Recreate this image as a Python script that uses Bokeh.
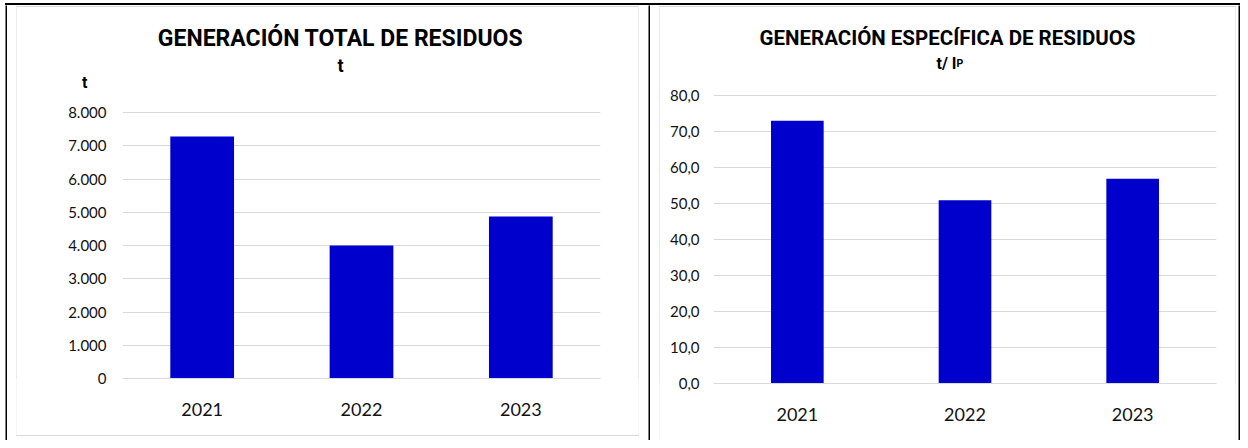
from bokeh.plotting import figure
from bokeh.layouts import row, column
from bokeh.models import Range1d, FixedTicker, LinearAxis, Div, Spacer
from bokeh.core.properties import value
from bokeh.embed import file_html
from bokeh.resources import INLINE

# ---------------- data ----------------
years = ["2021", "2022", "2023"]
total_t = [7280, 4000, 4870]
specific_t_ip = [73.0, 50.9, 56.9]

left_ticks = [0, 1000, 2000, 3000, 4000, 5000, 6000, 7000, 8000]
left_tick_labels = ["0", "1.000", "2.000", "3.000", "4.000", "5.000", "6.000", "7.000", "8.000"]
right_ticks = [0, 10, 20, 30, 40, 50, 60, 70, 80]
right_tick_labels = ["0,0", "10,0", "20,0", "30,0", "40,0", "50,0", "60,0", "70,0", "80,0"]

title_left = "GENERACIÓN TOTAL DE RESIDUOS"
sub_left = "t"
axis_unit_left = "t"
title_right = "GENERACIÓN ESPECÍFICA DE RESIDUOS"
sub_right_main = "t/ I"
sub_right_small = "P"

# category positions on the x scale (1, 2, 3)
x_pos = list(range(1, len(years) + 1))

# ---------------- styles ----------------
BAR = "#0000CC"
GRID = "#d9d9d9"
FRAME_GREY = "#d9d9d9"
TITLE_FONT = "Roboto"
TICK_FONT = "Lato"
BASE_FIX = 7.5   # alphabetic baseline correction (px)


def vblock(w, h, color):
    return figure(width=w, height=h, min_border=0, toolbar_location=None,
                  title=None, output_backend="svg", x_axis_type=None,
                  y_axis_type=None, background_fill_color=color,
                  border_fill_color=color, outline_line_color=None)


def hline(w, h, color):
    return Div(text="", width=w, height=h, margin=0,
               styles={"background-color": color, "overflow": "hidden"})


def make_chart(values, ticks, tick_labels, ymax, cw, ch, page_x, page_y,
               mb_l, mb_r, px_top_tick, mb_b, bar_width, y_standoff):
    # frame spans from the top of the figure down to the zero line
    frame_h = ch - mb_b
    plot_h = frame_h - (px_top_tick - page_y)          # px between top tick and 0
    y_end = ymax + (px_top_tick - page_y) * ymax / plot_h
    p = figure(x_range=Range1d(0.5, len(years) + 0.5), y_range=Range1d(0, y_end),
               width=cw, height=ch,
               min_border_left=mb_l, min_border_right=mb_r,
               min_border_top=0, min_border_bottom=mb_b, title=None,
               toolbar_location=None, output_backend="svg",
               background_fill_color="white", border_fill_color="white",
               outline_line_color=None)
    # pixel helper ranges (page coordinates) for the header texts
    fx0 = page_x + mb_l
    fx1 = page_x + cw - mb_r
    fy_bottom = page_y + frame_h
    p.extra_x_ranges = {"px": Range1d(fx0, fx1)}
    p.extra_y_ranges = {"px": Range1d(fy_bottom, page_y)}

    p.vbar(x=x_pos, top=values, width=bar_width, fill_color=BAR, line_color=None)

    p.xgrid.grid_line_color = None
    p.ygrid.grid_line_color = GRID
    p.ygrid.grid_line_width = 1
    p.ygrid.ticker = FixedTicker(ticks=ticks)

    p.yaxis.ticker = FixedTicker(ticks=ticks)
    p.yaxis.major_label_overrides = dict(zip(ticks, tick_labels))
    p.yaxis.axis_line_color = None
    p.yaxis.major_tick_line_color = None
    p.yaxis.minor_tick_line_color = None
    p.yaxis.major_tick_out = 0
    p.yaxis.major_tick_in = 0
    p.yaxis.major_label_standoff = y_standoff
    p.yaxis.major_label_text_font = TICK_FONT
    p.yaxis.major_label_text_font_size = "15px"
    p.yaxis.major_label_text_color = "#111111"

    p.xaxis.ticker = FixedTicker(ticks=x_pos)
    p.xaxis.major_label_overrides = dict(zip(x_pos, years))
    p.xaxis.axis_line_color = GRID
    p.xaxis.major_tick_line_color = None
    p.xaxis.minor_tick_line_color = None
    p.xaxis.major_tick_out = 0
    p.xaxis.major_tick_in = 0
    p.xaxis.major_label_standoff = 24
    p.xaxis.major_label_text_font = TICK_FONT
    p.xaxis.major_label_text_font_size = "18px"
    p.xaxis.major_label_text_color = "#111111"
    return p


def put_text(p, text, x, y, size, align="center"):
    p.text(x=[x], y=[y - BASE_FIX], text=[text], text_align=align,
           text_baseline="alphabetic", text_font=value(TITLE_FONT),
           text_font_size=size, text_font_style="bold", text_color="black",
           x_range_name="px", y_range_name="px")


# ---------------- left chart (621 x 428, page origin 17,7) ----------------
L_W, L_H = 621, 428
left = make_chart(total_t, left_ticks, left_tick_labels, 8000, L_W, L_H, 17, 7,
                  105, 38, 112, 57, 0.4, 16)
put_text(left, title_left, 340, 45, "23px")
put_text(left, sub_left, 340, 72, "18px")
unit_axis = LinearAxis(y_range_name="px", ticker=FixedTicker(ticks=[82]),
                       major_label_overrides={82: axis_unit_left},
                       axis_line_color=None, major_tick_line_color=None,
                       minor_tick_line_color=None, major_tick_in=0, major_tick_out=0,
                       major_label_standoff=-22, major_label_text_font=TITLE_FONT,
                       major_label_text_font_size="16px",
                       major_label_text_font_style="bold",
                       major_label_text_color="black")
left.add_layout(unit_axis, "left")

# ---------------- right chart (575 x 433, page origin 660,7) ----------------
R_W, R_H = 575, 433
right = make_chart(specific_t_ip, right_ticks, right_tick_labels, 80, R_W, R_H, 660, 7,
                   53, 19, 95, 57, 0.314, 14)
put_text(right, title_right, 947, 45, "20.5px")
put_text(right, sub_right_main, 956, 70, "16px", align="right")
put_text(right, sub_right_small, 956, 70, "10.5px", align="left")

# ---------------- grey chart frames ----------------
left_cell = column(
    Spacer(width=641, height=1, margin=0),
    row(Spacer(width=9, height=430, margin=0),
        column(hline(623, 1, FRAME_GREY),
               row(vblock(1, 428, FRAME_GREY), left, vblock(1, 428, FRAME_GREY)),
               hline(623, 1, FRAME_GREY)),
        Spacer(width=9, height=430, margin=0)),
    Spacer(width=641, height=4, margin=0),
)
right_cell = column(
    Spacer(width=588, height=1, margin=0),
    row(Spacer(width=9, height=434, margin=0),
        column(hline(577, 1, FRAME_GREY),
               row(vblock(1, 433, FRAME_GREY), right, vblock(1, 433, FRAME_GREY))),
        Spacer(width=2, height=434, margin=0)),
)

# ---------------- table borders ----------------
page = column(
    Spacer(width=1240, height=3, margin=0),
    row(Spacer(width=5, height=437, margin=0),
        column(hline(1235, 2, "black"),
               row(vblock(2, 435, "black"), left_cell, vblock(2, 435, "black"),
                   right_cell, vblock(2, 435, "black")))),
)

open("out.html", "w").write(file_html(page, INLINE))
